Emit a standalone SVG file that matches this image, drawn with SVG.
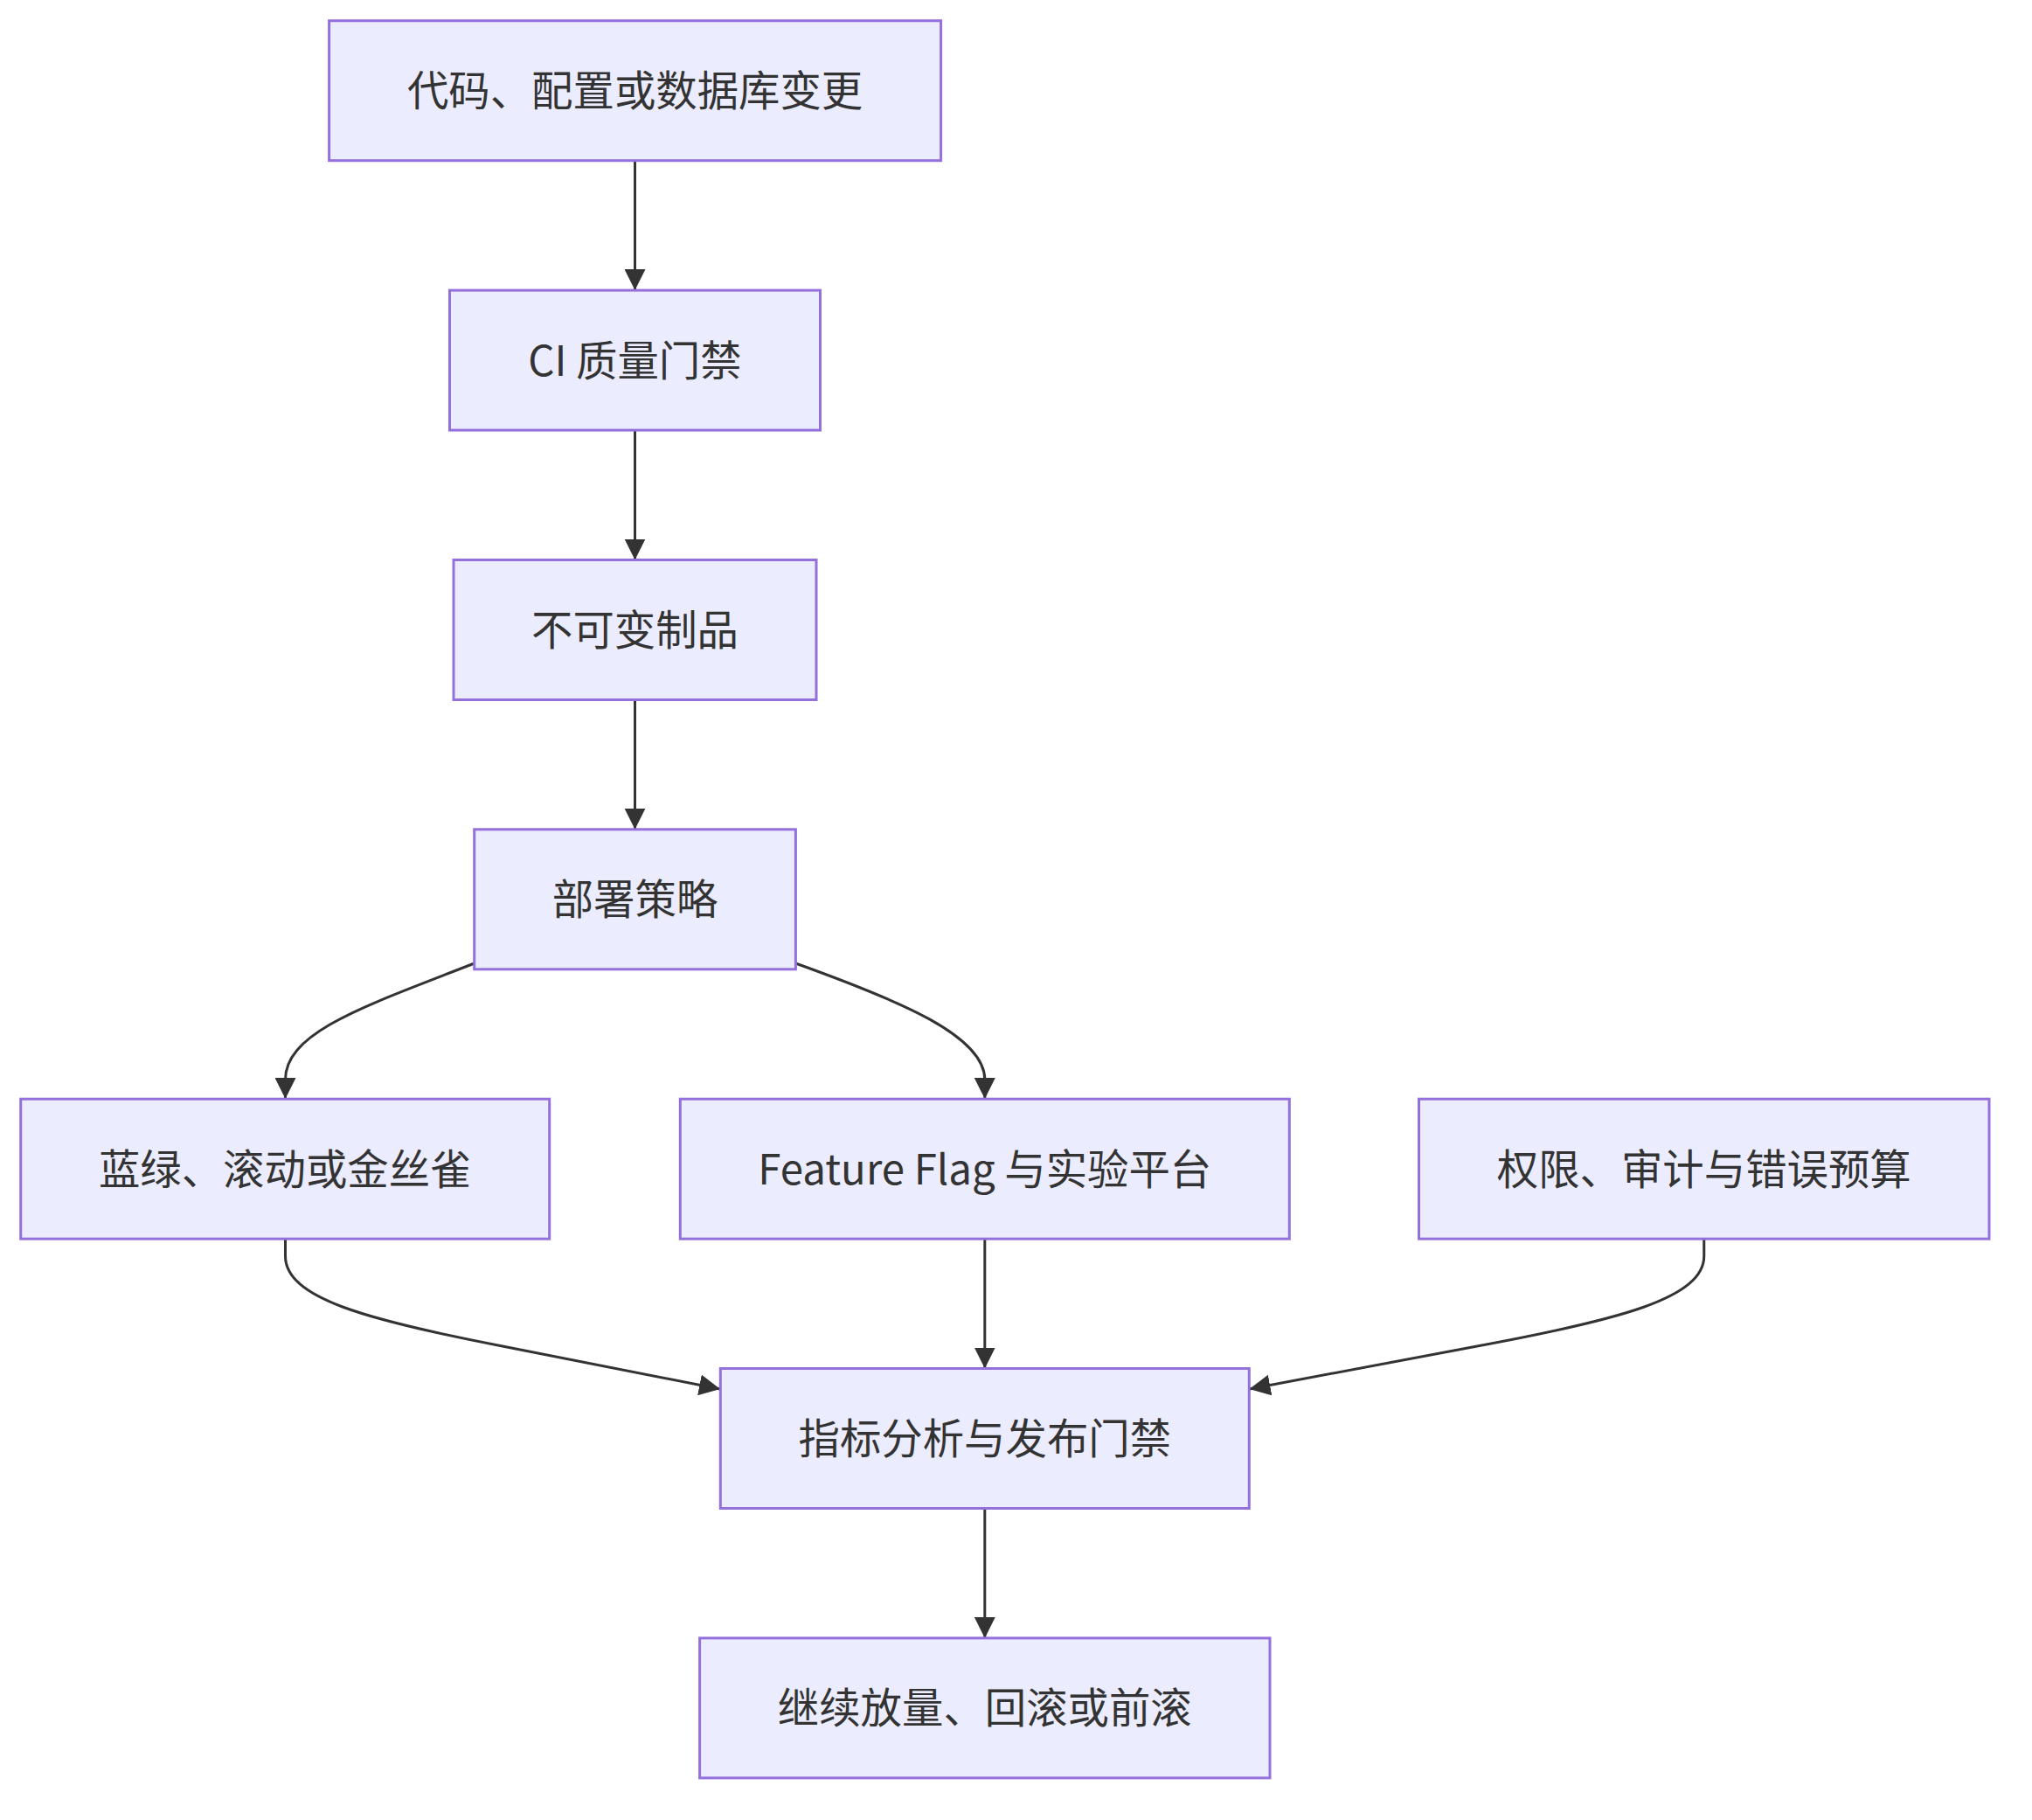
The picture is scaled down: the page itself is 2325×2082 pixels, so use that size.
<svg xmlns="http://www.w3.org/2000/svg" width="2325" height="2082" viewBox="0 0 2325 2082">
<style>
.node rect{fill:#ECECFF;stroke:#9370DB;stroke-width:3}
.node text{font-family:"Noto Sans CJK SC","Noto Sans",sans-serif;font-size:47.4px;fill:#333333;text-anchor:middle;dominant-baseline:central}
.edge{fill:none;stroke:#333333;stroke-width:3}
</style>
<defs>
<marker id="arrow" viewBox="0 0 10 10" refX="10" refY="5" markerUnits="userSpaceOnUse" markerWidth="24" markerHeight="24" orient="auto">
<path d="M0,0 L10,5 L0,10 z" fill="#333333"/>
</marker>
</defs>
<rect width="2325" height="2082" fill="#ffffff"/>
<g id="edges">
<path class="edge" marker-end="url(#arrow)" d="M726.5,184 L726.5,332"/>
<path class="edge" marker-end="url(#arrow)" d="M726.5,492.3 L726.5,640.5"/>
<path class="edge" marker-end="url(#arrow)" d="M726.5,800.6 L726.5,948.8"/>
<path class="edge" marker-end="url(#arrow)" d="M542.7,1102 C420,1150 326.5,1180 326.5,1235 L326.5,1257"/>
<path class="edge" marker-end="url(#arrow)" d="M910.4,1102 C1030,1145 1126.8,1185 1126.8,1235 L1126.8,1257"/>
<path class="edge" marker-end="url(#arrow)" d="M326.5,1417 L326.5,1437 C326.5,1485 420,1510 575,1540 L824,1589"/>
<path class="edge" marker-end="url(#arrow)" d="M1126.8,1417 L1126.8,1565.5"/>
<path class="edge" marker-end="url(#arrow)" d="M1949.75,1417 L1949.75,1437 C1949.75,1485 1852,1510 1690,1540 L1429.5,1589"/>
<path class="edge" marker-end="url(#arrow)" d="M1126.8,1725.6 L1126.8,1873.9"/>
</g>
<g id="n1" class="node"><rect x="376.6" y="23.7" width="700" height="160"/><text x="726.6" y="100.7">代码、配置或数据库变更</text></g>
<g id="n2" class="node"><rect x="514.5" y="332.1" width="424" height="160"/><text x="726.5" y="409.1">CI 质量门禁</text></g>
<g id="n3" class="node"><rect x="519" y="640.5" width="415" height="160"/><text x="726.5" y="717.5">不可变制品</text></g>
<g id="n4" class="node"><rect x="542.7" y="948.8" width="367.7" height="160"/><text x="726.5" y="1025.8">部署策略</text></g>
<g id="n5" class="node"><rect x="23.7" y="1257.2" width="605" height="160"/><text x="326.2" y="1334.2">蓝绿、滚动或金丝雀</text></g>
<g id="n6" class="node"><rect x="778.3" y="1257.2" width="697" height="160"/><text x="1126.8" y="1334.2">Feature Flag 与实验平台</text></g>
<g id="n7" class="node"><rect x="1623.5" y="1257.2" width="652.5" height="160"/><text x="1949.75" y="1334.2">权限、审计与错误预算</text></g>
<g id="n8" class="node"><rect x="824.3" y="1565.5" width="605" height="160"/><text x="1126.8" y="1642.5">指标分析与发布门禁</text></g>
<g id="n9" class="node"><rect x="800.6" y="1873.9" width="652.4" height="160"/><text x="1126.8" y="1950.9">继续放量、回滚或前滚</text></g>
</svg>
